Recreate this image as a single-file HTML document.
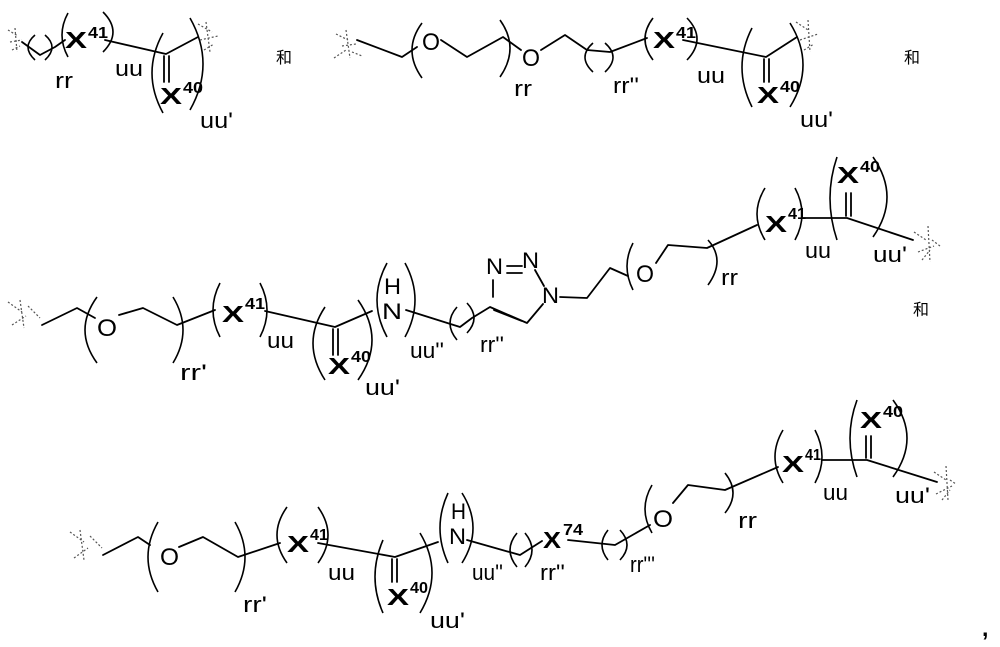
<!DOCTYPE html>
<html><head><meta charset="utf-8"><style>
html,body{margin:0;padding:0;background:#fff;}
svg{display:block;}
.b{fill:none;stroke:#000;stroke-width:1.8;stroke-linejoin:round;stroke-linecap:round;}
.p{fill:none;stroke:#000;stroke-width:1.6;}
.w{fill:none;stroke:#555;stroke-width:1.2;stroke-dasharray:2 2;}
text{font-family:"Liberation Sans",Arial,sans-serif;fill:#000;}
.X{font-weight:bold;font-size:23px;}
.s{font-weight:bold;font-size:16px;}
.l{font-size:22px;}
.O{font-size:24px;}
.c{font-family:"Liberation Sans","Noto Sans CJK SC",sans-serif;font-size:16px;}
</style></head><body>
<svg width="1000" height="647" viewBox="0 0 1000 647" xmlns="http://www.w3.org/2000/svg">
<!-- Row 1 A -->
<path class="w" d="M8 30 L18 36 M10 42 L22 40 M12 50 L20 46 M15 28 L17 52"/>
<path class="b" d="M22 42 L40 55 L55 47 L65 40"/>
<path class="p" d="M35 35 Q21 47 35 60 M45 35 Q59 47 45 60 M68 13 Q56 35 68 57 M103 12 Q123 32 103 52 M163 33 Q141 73 163 113 M190 18 Q216 64 190 110"/>
<text class="X" x="65" y="48" textLength="22" lengthAdjust="spacingAndGlyphs">X</text><text class="s" x="88" y="38" textLength="20" lengthAdjust="spacingAndGlyphs">41</text>
<path class="b" d="M105 40 L166 54 L198 37 M164 56 L164 82 M169 56 L169 82"/>
<text class="X" x="160" y="104" textLength="22" lengthAdjust="spacingAndGlyphs">X</text><text class="s" x="183" y="93" textLength="20" lengthAdjust="spacingAndGlyphs">40</text>
<path class="w" d="M198 24 L212 32 M200 40 L218 36 M204 50 L214 44 M206 22 L210 52"/>
<text class="l" x="55" y="88" textLength="18" lengthAdjust="spacingAndGlyphs">rr</text><text class="l" x="115" y="76" textLength="28" lengthAdjust="spacingAndGlyphs">uu</text><text class="l" x="200" y="128" textLength="33" lengthAdjust="spacingAndGlyphs">uu'</text>
<text class="c" x="276" y="63">和</text>
<!-- Row 1 B -->
<path class="w" d="M334 58 L346 50 M336 34 L348 40 M342 46 L356 44 M346 30 L350 58 M352 52 L362 56"/>
<path class="b" d="M357 40 L402 57 L417 47 M441 40 L467 57 L503 37 L521 50 M541 50 L565 35 L587 50 L610 52 L647 38"/>
<path class="p" d="M422 23 Q402 50 422 78 M500 20 Q520 48 500 77 M593 43 Q577 57 593 72 M605 43 Q621 57 605 72 M653 18 Q637 39 653 60 M687 18 Q707 39 687 60 M752 28 Q732 67 752 107 M790 23 Q816 65 790 107"/>
<text class="O" x="422" y="50" textLength="18" lengthAdjust="spacingAndGlyphs">O</text><text class="O" x="522" y="66" textLength="18" lengthAdjust="spacingAndGlyphs">O</text>
<text class="X" x="653" y="48" textLength="22" lengthAdjust="spacingAndGlyphs">X</text><text class="s" x="676" y="38" textLength="20" lengthAdjust="spacingAndGlyphs">41</text>
<path class="b" d="M683 40 L766 57 L797 37 M764 59 L764 82 M769 59 L769 82"/>
<text class="X" x="757" y="103" textLength="22" lengthAdjust="spacingAndGlyphs">X</text><text class="s" x="780" y="92" textLength="20" lengthAdjust="spacingAndGlyphs">40</text>
<path class="w" d="M796 22 L808 30 M800 40 L818 34 M804 50 L814 44 M808 20 L810 52"/>
<text class="l" x="514" y="96" textLength="18" lengthAdjust="spacingAndGlyphs">rr</text><text class="l" x="613" y="93" textLength="26" lengthAdjust="spacingAndGlyphs">rr''</text><text class="l" x="697" y="83" textLength="28" lengthAdjust="spacingAndGlyphs">uu</text><text class="l" x="800" y="127" textLength="33" lengthAdjust="spacingAndGlyphs">uu'</text>
<text class="c" x="904" y="63">和</text>
<!-- Row 2 -->
<path class="w" d="M8 302 L22 312 M12 325 L26 316 M20 300 L24 328 M28 306 L40 318"/>
<path class="b" d="M42 325 L77 308 L95 318 M119 315 L143 308 L177 325 L215 310"/>
<path class="p" d="M97 297 Q73 330 97 363 M173 297 Q193 330 173 363 M220 283 Q206 310 220 337 M260 283 Q274 310 260 337 M325 307 Q301 343 325 380 M358 300 Q386 340 358 380 M387 263 Q367 300 387 337 M405 263 Q425 300 405 337 M457 307 Q443 323 457 340 M467 303 Q481 318 467 333 M633 243 Q621 266 633 290 M708 240 Q726 260 708 285 M765 188 Q749 214 765 240 M795 188 Q809 214 795 240 M837 157 Q823 198 837 240 M873 157 Q901 197 873 237"/>
<text class="O" x="97" y="336" textLength="20" lengthAdjust="spacingAndGlyphs">O</text>
<text class="X" x="222" y="322" textLength="22" lengthAdjust="spacingAndGlyphs">X</text><text class="s" x="245" y="309" textLength="20" lengthAdjust="spacingAndGlyphs">41</text>
<path class="b" d="M265 311 L335 327 L372 311 M333 329 L333 355 M338 329 L338 355"/>
<text class="X" x="328" y="374" textLength="22" lengthAdjust="spacingAndGlyphs">X</text><text class="s" x="351" y="362" textLength="20" lengthAdjust="spacingAndGlyphs">40</text>
<text class="l" x="382" y="319" textLength="20" lengthAdjust="spacingAndGlyphs">N</text><text class="l" x="384" y="294" textLength="17" lengthAdjust="spacingAndGlyphs">H</text>
<path class="b" d="M406 310 L460 327 L472 318 L490 307 L527 323 L543 304 M493 297 L493 280 M535 270 L544 286 M507 266 L522 266 M507 273 L522 273 M494 310 L522 321"/>
<text class="l" x="486" y="274" textLength="17" lengthAdjust="spacingAndGlyphs">N</text><text class="l" x="522" y="268" textLength="17" lengthAdjust="spacingAndGlyphs">N</text><text class="l" x="542" y="303" textLength="17" lengthAdjust="spacingAndGlyphs">N</text>
<path class="b" d="M560 297 L587 298 L610 268 L628 276 M656 263 L668 245 L707 248 L757 225"/>
<text class="O" x="636" y="282" textLength="18" lengthAdjust="spacingAndGlyphs">O</text>
<text class="X" x="765" y="232" textLength="22" lengthAdjust="spacingAndGlyphs">X</text><text class="s" x="788" y="219" textLength="18" lengthAdjust="spacingAndGlyphs">41</text>
<path class="b" d="M803 218 L847 218 L913 240 M846 193 L846 216 M851 193 L851 216"/>
<text class="X" x="837" y="183" textLength="22" lengthAdjust="spacingAndGlyphs">X</text><text class="s" x="860" y="172" textLength="20" lengthAdjust="spacingAndGlyphs">40</text>
<path class="w" d="M914 232 L926 240 M918 252 L934 246 M922 260 L930 250 M928 226 L930 262 M932 240 L940 246"/>
<text class="l" x="180" y="380" textLength="27" lengthAdjust="spacingAndGlyphs">rr'</text><text class="l" x="267" y="348" textLength="27" lengthAdjust="spacingAndGlyphs">uu</text><text class="l" x="365" y="395" textLength="35" lengthAdjust="spacingAndGlyphs">uu'</text>
<text class="l" x="410" y="358" textLength="34" lengthAdjust="spacingAndGlyphs">uu''</text><text class="l" x="480" y="352" textLength="24" lengthAdjust="spacingAndGlyphs">rr''</text><text class="l" x="721" y="285" textLength="17" lengthAdjust="spacingAndGlyphs">rr</text>
<text class="l" x="805" y="258" textLength="26" lengthAdjust="spacingAndGlyphs">uu</text><text class="l" x="873" y="262" textLength="34" lengthAdjust="spacingAndGlyphs">uu'</text>
<text class="c" x="913" y="315">和</text>
<!-- Row 3 -->
<path class="w" d="M70 532 L84 542 M74 558 L88 548 M80 530 L84 560 M90 536 L102 548"/>
<path class="b" d="M103 555 L138 537 L150 545 M179 547 L203 537 L238 557 L280 543"/>
<path class="p" d="M158 522 Q138 557 158 592 M235 522 Q255 557 235 592 M287 507 Q267 535 287 563 M318 507 Q338 535 318 563 M383 540 Q367 577 383 613 M420 533 Q444 573 420 613 M448 493 Q432 528 448 563 M462 493 Q484 528 462 563 M517 533 Q503 550 517 567 M525 533 Q539 550 525 567 M608 530 Q596 545 608 560 M620 530 Q634 545 620 560 M652 485 Q638 509 652 533 M725 473 Q741 493 725 513 M783 430 Q767 457 783 483 M815 430 Q829 457 815 483 M857 400 Q843 438 857 477 M893 400 Q921 438 893 477"/>
<text class="O" x="160" y="565" textLength="19" lengthAdjust="spacingAndGlyphs">O</text>
<text class="X" x="287" y="552" textLength="22" lengthAdjust="spacingAndGlyphs">X</text><text class="s" x="310" y="540" textLength="18" lengthAdjust="spacingAndGlyphs">41</text>
<path class="b" d="M318 543 L395 557 L438 542 M392 559 L392 582 M397 559 L397 582"/>
<text class="X" x="387" y="605" textLength="22" lengthAdjust="spacingAndGlyphs">X</text><text class="s" x="410" y="593" textLength="18" lengthAdjust="spacingAndGlyphs">40</text>
<text class="l" x="449" y="544" textLength="17" lengthAdjust="spacingAndGlyphs">N</text><text class="l" x="451" y="519" textLength="15" lengthAdjust="spacingAndGlyphs">H</text>
<path class="b" d="M467 540 L520 555 L542 541 M568 540 L615 545 L650 525 M673 503 L688 485 L725 490 L778 467"/>
<text class="X" x="543" y="548" textLength="18" lengthAdjust="spacingAndGlyphs">X</text><text class="s" x="563" y="535" textLength="20" lengthAdjust="spacingAndGlyphs">74</text>
<text class="O" x="653" y="527" textLength="20" lengthAdjust="spacingAndGlyphs">O</text>
<text class="X" x="782" y="472" textLength="22" lengthAdjust="spacingAndGlyphs">X</text><text class="s" x="805" y="460" textLength="16" lengthAdjust="spacingAndGlyphs">41</text>
<path class="b" d="M822 460 L867 460 L937 482 M866 436 L866 458 M871 436 L871 458"/>
<text class="X" x="860" y="428" textLength="22" lengthAdjust="spacingAndGlyphs">X</text><text class="s" x="883" y="417" textLength="20" lengthAdjust="spacingAndGlyphs">40</text>
<path class="w" d="M934 472 L946 480 M936 494 L952 486 M942 500 L950 490 M946 466 L948 500 M950 480 L956 484"/>
<text class="l" x="243" y="612" textLength="24" lengthAdjust="spacingAndGlyphs">rr'</text><text class="l" x="328" y="580" textLength="27" lengthAdjust="spacingAndGlyphs">uu</text><text class="l" x="430" y="628" textLength="35" lengthAdjust="spacingAndGlyphs">uu'</text>
<text class="l" x="472" y="580" textLength="31" lengthAdjust="spacingAndGlyphs">uu''</text><text class="l" x="540" y="580" textLength="25" lengthAdjust="spacingAndGlyphs">rr''</text><text class="l" x="630" y="572" textLength="25" lengthAdjust="spacingAndGlyphs">rr'''</text>
<text class="l" x="738" y="528" textLength="19" lengthAdjust="spacingAndGlyphs">rr</text><text class="l" x="823" y="500" textLength="25" lengthAdjust="spacingAndGlyphs">uu</text><text class="l" x="895" y="503" textLength="35" lengthAdjust="spacingAndGlyphs">uu'</text>
<text class="X" x="982" y="636">,</text>
</svg>
</body></html>
